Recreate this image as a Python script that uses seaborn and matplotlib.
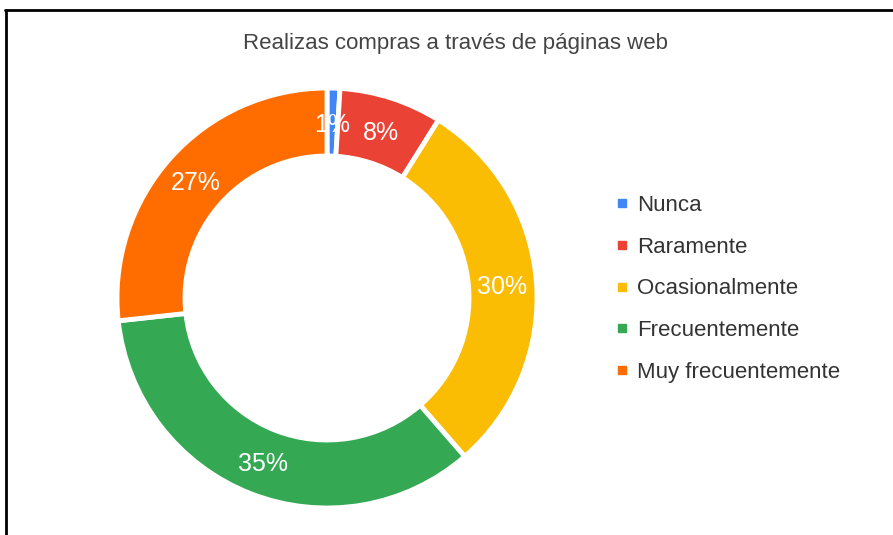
import matplotlib
matplotlib.use("Agg")
import matplotlib.pyplot as plt
import seaborn as sns
import numpy as np
from matplotlib.lines import Line2D

categories = ["Nunca", "Raramente", "Ocasionalmente", "Frecuentemente", "Muy frecuentemente"]
values = [1, 8, 30, 35, 27]
labels = ["1%", "8%", "30%", "35%", "27%"]
colors_hex = ["#4285F4", "#EA4335", "#FBBC04", "#34A853", "#FF6D01"]
title = "Realizas compras a través de páginas web"

sns.set_theme(style="white")
plt.rcParams['font.family'] = ['Liberation Sans', 'DejaVu Sans']
palette = sns.color_palette(colors_hex)

W, H = 893, 535
fig = plt.figure(figsize=(W / 100, H / 100), dpi=100)
fig.patch.set_facecolor("white")

cx, cy, R = 327, 298, 210
ax = fig.add_axes([(cx - R) / W, (H - cy - R) / H, 2 * R / W, 2 * R / H])
inner = 142 / 210
width = 1 - inner
wedges, _ = ax.pie(values, colors=palette, startangle=90, counterclock=False,
                   radius=1, wedgeprops=dict(width=width, edgecolor="white", linewidth=3.5))
ax.set_xlim(-1, 1)
ax.set_ylim(-1, 1)
ax.set_aspect("equal")
ax.axis("off")

rmid = (1 + inner) / 2
for w, lab in zip(wedges, labels):
    ang = np.deg2rad((w.theta1 + w.theta2) / 2)
    ax.text(rmid * np.cos(ang), rmid * np.sin(ang) - 0.012, lab, ha="center", va="center",
            color="white", fontsize=18)

fig.text(456 / W, 1 - 43 / H, title, ha="center", va="center", fontsize=16, color="#444444")

handles = [Line2D([0], [0], marker="s", linestyle="", markersize=6, color=c) for c in colors_hex]
leg = fig.legend(handles, categories, loc="center left", bbox_to_anchor=(615 / W, 1 - 289 / H),
                 frameon=False, fontsize=16, labelspacing=0.93, handletextpad=0.4,
                 handlelength=0.6, borderpad=0, borderaxespad=0, labelcolor="#333333")

fig.add_artist(Line2D([5 / W, 1], [1 - 10 / H, 1 - 10 / H], color="black", linewidth=2))
fig.add_artist(Line2D([6 / W, 6 / W], [0, 1 - 10 / H], color="black", linewidth=2))

fig.savefig("out.png", dpi=100)
